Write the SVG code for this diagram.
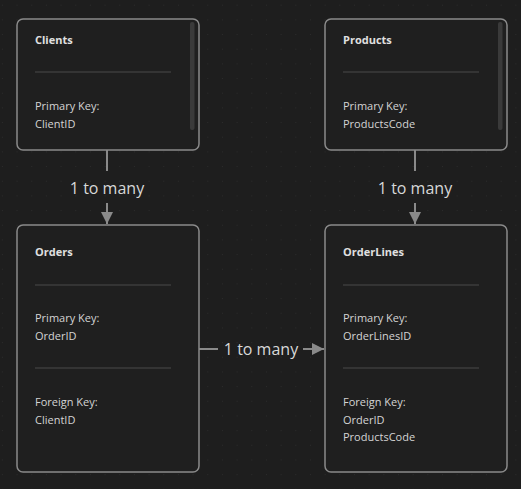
<svg xmlns="http://www.w3.org/2000/svg" width="521" height="489" viewBox="0 0 521 489">
<defs>
<pattern id="dots" x="1.9" y="4.7" width="14.67" height="14.67" patternUnits="userSpaceOnUse">
<rect x="-0.7" y="-0.7" width="1.5" height="1.5" fill="#333333"/>
</pattern>
<marker id="arr" viewBox="0 0 12 12" refX="12" refY="6" markerWidth="12" markerHeight="12" markerUnits="userSpaceOnUse" orient="auto">
<path d="M0,0 L12,6 L0,12 Z" fill="#8a8a8a"/>
</marker>
<style>
.node{fill:#1f1f1f;stroke:#8a8a8a;stroke-width:1.5}
.sb{fill:#3a3a3a}
.div{stroke:#3d3d3d;stroke-width:1.5}
.title{font-family:"Open Sans","Noto Sans",sans-serif;font-size:11px;font-weight:bold;fill:#e0e0e0}
.t{font-family:"Open Sans","Noto Sans",sans-serif;font-size:11px;fill:#d4d4d4}
.edge{stroke:#8a8a8a;stroke-width:2;fill:none}
.lbl{font-family:"Open Sans","Noto Sans",sans-serif;font-size:16px;fill:#d8d8d8;text-anchor:middle}
</style>
</defs>
<rect width="521" height="489" fill="#1e1e1e"/>
<rect width="521" height="489" fill="url(#dots)"/>

<g id="connectors">
<line class="edge" x1="107" y1="150" x2="107" y2="171"/>
<line class="edge" x1="107" y1="203" x2="107" y2="224" marker-end="url(#arr)"/>
<text class="lbl" x="107" y="194">1 to many</text>
<line class="edge" x1="415" y1="150" x2="415" y2="171"/>
<line class="edge" x1="415" y1="203" x2="415" y2="224" marker-end="url(#arr)"/>
<text class="lbl" x="415" y="194">1 to many</text>
<line class="edge" x1="199" y1="349" x2="218" y2="349"/>
<line class="edge" x1="303" y1="349" x2="324" y2="349" marker-end="url(#arr)"/>
<text class="lbl" x="261" y="355">1 to many</text>
</g>

<g id="clients">
<rect class="node" x="17" y="19" width="182" height="131" rx="6"/>
<rect class="sb" x="190" y="22" width="4.5" height="108" rx="2"/>
<text class="title" x="35" y="44">Clients</text>
<line class="div" x1="35" y1="72" x2="171" y2="72"/>
<text class="t" x="35" y="110">Primary Key:</text>
<text class="t" x="35" y="128">ClientID</text>
</g>

<g id="products">
<rect class="node" x="325" y="19" width="182" height="131" rx="6"/>
<rect class="sb" x="498" y="22" width="4.5" height="108" rx="2"/>
<text class="title" x="343" y="44">Products</text>
<line class="div" x1="343" y1="72" x2="479" y2="72"/>
<text class="t" x="343" y="110">Primary Key:</text>
<text class="t" x="343" y="128">ProductsCode</text>
</g>

<g id="orders">
<rect class="node" x="17" y="225" width="182" height="247" rx="6"/>
<text class="title" x="35" y="256">Orders</text>
<line class="div" x1="35" y1="285" x2="171" y2="285"/>
<text class="t" x="35" y="322">Primary Key:</text>
<text class="t" x="35" y="340">OrderID</text>
<line class="div" x1="35" y1="368" x2="171" y2="368"/>
<text class="t" x="35" y="406">Foreign Key:</text>
<text class="t" x="35" y="424">ClientID</text>
</g>

<g id="orderlines">
<rect class="node" x="325" y="225" width="182" height="247" rx="6"/>
<text class="title" x="343" y="256">OrderLines</text>
<line class="div" x1="343" y1="285" x2="479" y2="285"/>
<text class="t" x="343" y="322">Primary Key:</text>
<text class="t" x="343" y="340">OrderLinesID</text>
<line class="div" x1="343" y1="368" x2="479" y2="368"/>
<text class="t" x="343" y="406">Foreign Key:</text>
<text class="t" x="343" y="424">OrderID</text>
<text class="t" x="343" y="441">ProductsCode</text>
</g>
</svg>
